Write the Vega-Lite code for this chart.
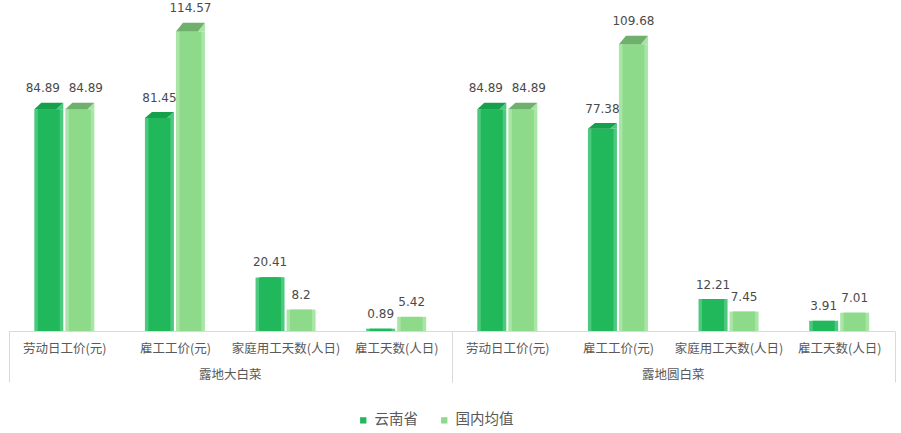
{
  "$schema": "https://vega.github.io/schema/vega-lite/v6.json",
  "padding": {"left": 8, "right": 8, "top": 2, "bottom": 5},
  "data": {"values": [
    {"group": "露地大白菜", "item": "劳动日工价(元)", "series": "云南省", "value": 84.89},
    {"group": "露地大白菜", "item": "劳动日工价(元)", "series": "国内均值", "value": 84.89},
    {"group": "露地大白菜", "item": "雇工工价(元)", "series": "云南省", "value": 81.45},
    {"group": "露地大白菜", "item": "雇工工价(元)", "series": "国内均值", "value": 114.57},
    {"group": "露地大白菜", "item": "家庭用工天数(人日)", "series": "云南省", "value": 20.41},
    {"group": "露地大白菜", "item": "家庭用工天数(人日)", "series": "国内均值", "value": 8.2},
    {"group": "露地大白菜", "item": "雇工天数(人日)", "series": "云南省", "value": 0.89},
    {"group": "露地大白菜", "item": "雇工天数(人日)", "series": "国内均值", "value": 5.42},
    {"group": "露地圆白菜", "item": "劳动日工价(元)", "series": "云南省", "value": 84.89},
    {"group": "露地圆白菜", "item": "劳动日工价(元)", "series": "国内均值", "value": 84.89},
    {"group": "露地圆白菜", "item": "雇工工价(元)", "series": "云南省", "value": 77.38},
    {"group": "露地圆白菜", "item": "雇工工价(元)", "series": "国内均值", "value": 109.68},
    {"group": "露地圆白菜", "item": "家庭用工天数(人日)", "series": "云南省", "value": 12.21},
    {"group": "露地圆白菜", "item": "家庭用工天数(人日)", "series": "国内均值", "value": 7.45},
    {"group": "露地圆白菜", "item": "雇工天数(人日)", "series": "云南省", "value": 3.91},
    {"group": "露地圆白菜", "item": "雇工天数(人日)", "series": "国内均值", "value": 7.01}
  ]},
  "facet": {
    "column": {
      "field": "group", "type": "nominal", "sort": ["露地大白菜", "露地圆白菜"],
      "header": {"title": null, "labelOrient": "bottom", "labelFontSize": 12.5, "labelColor": "#595959", "labelPadding": -14}
    }
  },
  "spacing": 0,
  "spec": {
    "width": 442.5,
    "height": 322,
    "encoding": {
      "x": {
        "field": "item", "type": "nominal",
        "sort": ["劳动日工价(元)", "雇工工价(元)", "家庭用工天数(人日)", "雇工天数(人日)"],
        "scale": {"paddingInner": 0, "paddingOuter": 0},
        "axis": {
          "title": null, "labelAngle": 0, "labelFontSize": 12.5, "labelColor": "#595959",
          "labelPadding": -40, "tickBand": "extent", "tickSize": 51, "tickColor": "#d9d9d9",
          "tickOpacity": {"condition": {"test": "!datum.value || datum.value == '雇工天数(人日)'", "value": 1}, "value": 0},
          "domainColor": "#d9d9d9", "grid": false
        }
      },
      "xOffset": {"field": "series", "type": "nominal", "sort": ["云南省", "国内均值"], "scale": {"paddingInner": 0.065, "paddingOuter": 0.815}},
      "y": {"field": "value", "type": "quantitative", "scale": {"domain": [0, 123.2], "nice": false}, "axis": null}
    },
    "layer": [
      {
        "mark": {"type": "bar", "fill": {"expr": "datum.series == '云南省' ? '#4cc97e' : '#a9e6a6'"}}
      },
      {
        "mark": {"type": "bar", "width": 22, "xOffset": -3.5},
        "encoding": {"color": {"field": "series", "type": "nominal", "sort": ["云南省", "国内均值"], "scale": {"domain": ["云南省", "国内均值"], "range": ["#20b85b", "#8dda8a"]},
          "legend": {"orient": "none", "legendX": 347, "legendY": 404, "title": null, "direction": "horizontal", "symbolType": "square", "symbolSize": 40, "labelFontSize": 14.5, "labelColor": "#595959", "columnPadding": 19, "labelOffset": 4}}}
      },
      {
        "mark": {"type": "point", "filled": true, "opacity": 1, "strokeWidth": 0, "size": 841,
          "fill": {"expr": "datum.series == '云南省' ? '#4cc97e' : '#a9e6a6'"},
          "shape": {"expr": "'M0.517,0L1,' + (-max(0,(datum.value-12)*0.006)) + 'L1,0Z'"}}
      },
      {
        "mark": {"type": "point", "filled": true, "opacity": 1, "strokeWidth": 0, "size": 841,
          "fill": {"expr": "datum.series == '云南省' ? '#17a04c' : '#6fb06c'"},
          "shape": {"expr": "'M-1,0L0.517,0L1,' + (-max(0,(datum.value-12)*0.006)) + 'L-0.517,' + (-max(0,(datum.value-12)*0.006)) + 'Z'"}}
      },
      {
        "mark": {"type": "text", "font": "DejaVu Sans", "fontSize": 12, "color": "#4a4a4a", "baseline": "alphabetic",
          "dy": {"expr": "-(10.5 + max(0,(datum.value-12)*0.087))"},
          "dx": {"expr": "datum.item == '劳动日工价(元)' ? (datum.series == '云南省' ? -6 : 6) : 0"}},
        "encoding": {"text": {"field": "value", "type": "nominal"}}
      }
    ]
  },
  "config": {
    "font": "Noto Sans CJK SC",
    "view": {"stroke": null}
  }
}
